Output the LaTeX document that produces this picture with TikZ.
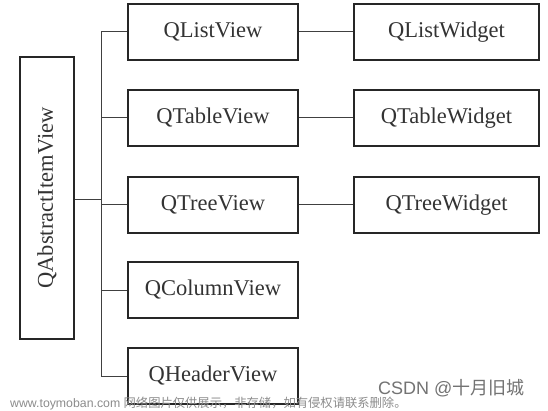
\documentclass[tikz,border=0pt]{standalone}
\usepackage{fontspec}
\setmainfont{Liberation Serif}
\newfontfamily\cjk{Noto Sans CJK SC}
\newfontfamily\wmsans{Liberation Sans}
\begin{document}
\begin{tikzpicture}[x=1pt,y=-1pt,
  box/.style={draw=black!85, line width=1.8pt, minimum width=170pt, minimum height=56pt, inner sep=0pt, font=\fontsize{22.5}{22.5}\selectfont, text=black!80},
  wbox/.style={box, minimum width=185pt},
  conn/.style={draw=black!75, line width=1pt}]
\useasboundingbox (0,0) rectangle (548,411);
\fill[white] (0,0) rectangle (548,411);
% left root box
\node[draw=black!85, line width=1.8pt, minimum width=54pt, minimum height=282pt, inner sep=0pt, text=black!80] (root) at (47,198) {};
\node[rotate=90, font=\fontsize{22.5}{22.5}\selectfont, text=black!80] (rootlbl) at (root.center) {QAbstractItemView};
% middle boxes
\node[box] (list) at (213,32) {QListView};
\node[box] (table) at (213,118) {QTableView};
\node[box] (tree) at (213,205) {QTreeView};
\node[box] (col) at (213,290) {QColumnView};
\node[box] (head) at (213,376) {QHeaderView};
% right boxes
\node[wbox] (listw) at (446.5,32) {QListWidget};
\node[wbox] (tablew) at (446.5,118) {QTableWidget};
\node[wbox] (treew) at (446.5,205) {QTreeWidget};
% connectors
\coordinate (trunk) at (101,200);
\draw[conn] (root.east |- trunk) -- (trunk);
\draw[conn] (list.west) -| (trunk);
\draw[conn] (head.west) -| (trunk);
\draw[conn] (table.west) -- (table.west -| trunk);
\draw[conn] (tree.west) -- (tree.west -| trunk);
\draw[conn] (col.west) -- (col.west -| trunk);
\draw[conn] (list.east) -- (listw.west);
\draw[conn] (table.east) -- (tablew.west);
\draw[conn] (tree.east) -- (treew.west);
% watermark
\node[anchor=west, inner sep=0pt, text=black!45, font=\fontsize{12.3}{12.3}\selectfont] (wm1) at (10,404) {\wmsans www.toymoban.com \cjk 网络图片仅供展示，非存储，如有侵权请联系删除。};
\node[anchor=west, inner sep=0pt, text=black!55, font=\fontsize{18}{18}\selectfont] (wm2) at (378,388) {\wmsans CSDN @\cjk 十月旧城};
\end{tikzpicture}
\end{document}
